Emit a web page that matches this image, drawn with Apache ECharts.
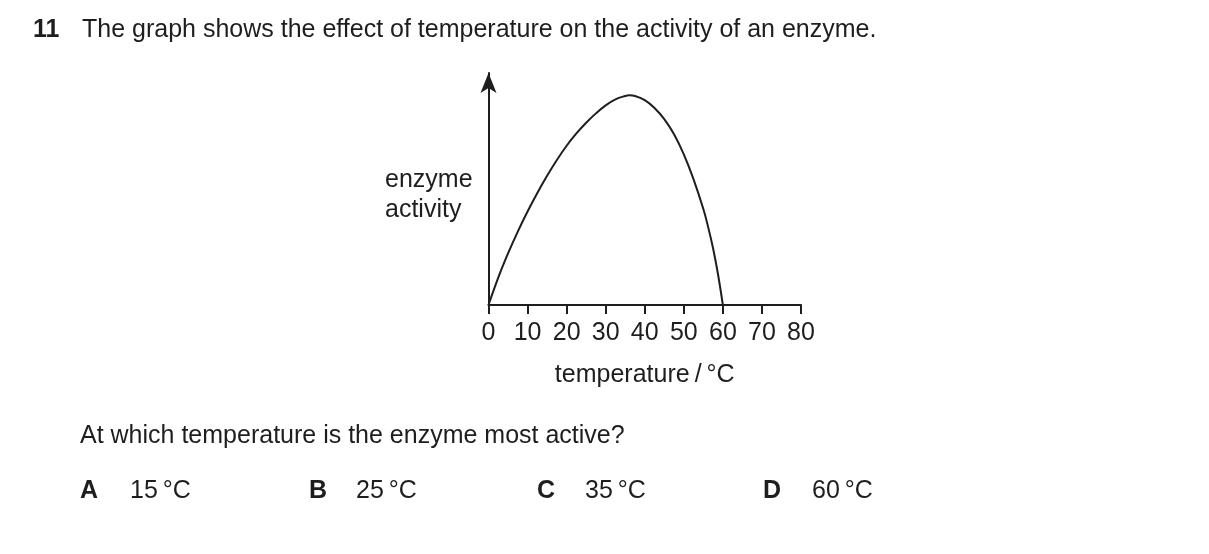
<!DOCTYPE html>
<html>
<head>
<meta charset="utf-8">
<script src="https://cdn.jsdelivr.net/npm/echarts@6/dist/echarts.min.js"></script>
<style>
html,body{margin:0;padding:0;background:#fff;}
#chart{width:1209px;height:554px;}
</style>
</head>
<body>
<div id="chart"></div>
<script>
// Data
var temperature = [0, 2.5, 5, 7.5, 10, 12.5, 15, 17.5, 20, 22.5, 25, 27.5, 30, 32.5, 35, 36, 37.5, 40, 42.5, 45, 47.5, 50, 52.5, 55, 56.25, 57.5, 58.75, 60];
var activity    = [0, 12.3, 23.1, 32.9, 41.9, 50.2, 57.9, 65.0, 71.4, 76.9, 81.7, 85.9, 89.5, 92.2, 93.7, 94.0, 93.7, 91.8, 88.3, 83.3, 76.5, 67.5, 56.3, 43.0, 34.8, 25.3, 13.8, 0];
var xTicks = [0, 10, 20, 30, 40, 50, 60, 70, 80];
var questionNo = '11';
var stem = 'The graph shows the effect of temperature on the activity of an enzyme.';
var question = 'At which temperature is the enzyme most active?';
var optionLetters = ['A', 'B', 'C', 'D'];
var optionTexts = ['15\u2009°C', '25\u2009°C', '35\u2009°C', '60\u2009°C'];
var xName = 'temperature\u2009/\u2009°C';
var yNameLines = ['enzyme', 'activity'];

var FAMILY = "'Liberation Sans', Arial, sans-serif";
var INK = '#1e1e1e';
var FS = 25;

var pts = temperature.map(function (t, i) { return [t, activity[i]]; });

var chart = echarts.init(document.getElementById('chart'));

var letterX = [80, 309, 537, 763];
var textX = [130, 356, 585, 812];
function txt(left, top, s, bold) {
  return {type: 'text', left: left, top: top,
    style: {text: s, fontFamily: FAMILY, fontSize: FS, fontWeight: bold ? 'bold' : 'normal', fill: INK}};
}
var graphics = [
  txt(33, 18, questionNo, true),
  txt(82, 18, stem, false),
  txt(80, 424, question, false),
  {type: 'text', left: 385, top: 165, style: {text: yNameLines.join('\n'), fontFamily: FAMILY, fontSize: FS, fill: INK, lineHeight: 30}}
];
optionLetters.forEach(function (l, i) {
  graphics.push(txt(letterX[i], 479, l, true));
  graphics.push(txt(textX[i], 479, optionTexts[i], false));
});

chart.setOption({
  animation: false,
  backgroundColor: '#fff',
  grid: {left: 488.5, right: 408, top: 73, bottom: 249, containLabel: false},
  xAxis: {
    type: 'value', min: 0, max: 80, interval: 10,
    name: xName, nameLocation: 'middle', nameGap: 58,
    nameTextStyle: {fontFamily: FAMILY, fontSize: FS, color: INK},
    axisLine: {show: true, onZero: false, lineStyle: {color: INK, width: 2}},
    axisTick: {show: true, length: 9, lineStyle: {color: INK, width: 2}},
    axisLabel: {show: true, margin: 16, fontFamily: FAMILY, fontSize: FS, color: INK,
      customValues: xTicks, formatter: function (v) { return String(v); }},
    splitLine: {show: false}
  },
  yAxis: {
    type: 'value', min: 0, max: 104,
    axisLine: {show: true, onZero: false, symbol: ['none', 'arrow'], symbolSize: [12, 20],
      lineStyle: {color: INK, width: 2}},
    axisTick: {show: false}, axisLabel: {show: false}, splitLine: {show: false}
  },
  series: [{
    type: 'line', data: pts, smooth: 0.4, showSymbol: false, symbol: 'none',
    lineStyle: {color: INK, width: 2}, z: 3
  }],
  graphic: graphics
});
</script>
</body>
</html>
